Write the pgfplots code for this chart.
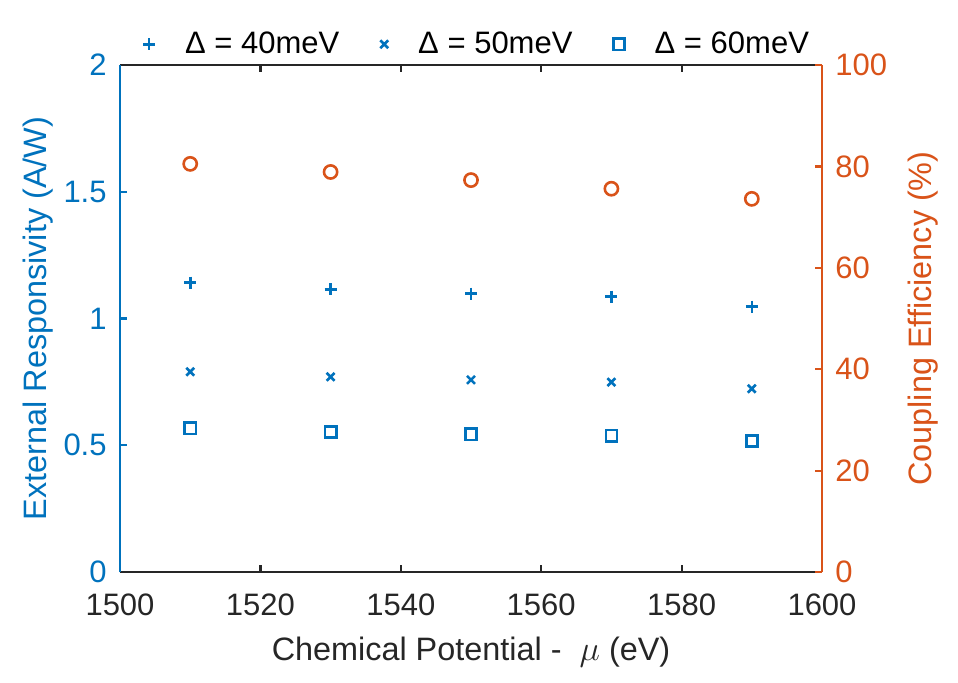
\documentclass[border=0pt]{standalone}
\usepackage{fontspec}
\setmainfont{Liberation Sans}
\usepackage{pgfplots}
\pgfplotsset{compat=1.18}
\definecolor{mblue}{rgb}{0,0.447,0.741}
\definecolor{morange}{rgb}{0.85,0.325,0.098}
\definecolor{mgray}{rgb}{0.15,0.15,0.15}
\tikzset{labelfont/.style={font=\fontsize{16.2}{19}\selectfont}}

\begin{document}
\begin{tikzpicture}
\path[use as bounding box] (0,0) rectangle (479pt,341pt);
\pgfplotsset{
  common/.style={
    at={(60pt,55pt)}, anchor=south west,
    scale only axis, width=351pt, height=253.5pt,
    xmin=1500, xmax=1600,
    font=\fontsize{15.5}{18}\selectfont,
    tick align=inside,
    major tick length=3.5pt,
    every axis plot/.append style={line width=1.3pt},
    /pgf/number format/assume math mode=true,
  },
}
% Left axis: external responsivity
\begin{axis}[
  common,
  ymin=0, ymax=2,
  xtick={1500,1520,...,1600},
  ytick={0,0.5,1,1.5,2},
  axis x line*=box,
  axis y line*=left,
  x axis line style={mgray, line width=1.3pt},
  y axis line style={mblue, line width=1.3pt},
  xtick style={mgray, line width=1.1pt},
  ytick style={mblue, line width=1.1pt},
  xticklabel style={text=mgray, anchor=north, inner sep=0pt, yshift=-10.5pt,
    /pgf/number format/set thousands separator={}},
  yticklabel style={text=mblue, anchor=east, inner sep=0pt, xshift=-6.5pt},
  xlabel={Chemical Potential -\ \ $\mu$ (eV)},
  xlabel style={labelfont, text=mgray, at={(axis description cs:0.5,0)}, anchor=base, yshift=-44pt},
  ylabel={External Responsivity (A/W)},
  ylabel style={labelfont, text=mblue, at={(axis description cs:-0.1168,0.5)}, anchor=center, rotate=0},
  /pgf/number format/fixed,
  legend style={at={(axis description cs:0.51,1)}, anchor=south, draw=none, fill=none,
    legend columns=3, font=\fontsize{15.5}{18}\selectfont,
    /tikz/every odd column/.append style={column sep=13pt},
    /tikz/every even column/.append style={column sep=18.5pt}},
]
\addplot[only marks, mark=+, mark size=3pt, color=mblue]
  coordinates {(1510,1.142) (1530,1.115) (1550,1.098) (1570,1.086) (1590,1.047)};
\addlegendentry{Δ = 40meV}
\addplot[only marks, mark=x, mark size=2.8pt, color=mblue]
  coordinates {(1510,0.790) (1530,0.770) (1550,0.758) (1570,0.749) (1590,0.723)};
\addlegendentry{Δ = 50meV}
\addplot[only marks, mark=square, mark size=2.8pt, color=mblue]
  coordinates {(1510,0.567) (1530,0.552) (1550,0.543) (1570,0.538) (1590,0.517)};
\addlegendentry{Δ = 60meV}
\end{axis}
% Right axis: coupling efficiency
\begin{axis}[
  common,
  ymin=0, ymax=100,
  ytick={0,20,...,100},
  axis x line=none,
  axis y line*=right,
  y axis line style={morange, line width=1.3pt},
  ytick style={morange, line width=1.1pt},
  yticklabel style={text=morange, anchor=west, inner sep=0pt, xshift=6.5pt},
  ylabel={Coupling Efficiency (\%)},
  ylabel style={labelfont, text=morange, at={(axis description cs:1.1439,0.5)}, anchor=center, rotate=0},
]
\addplot[only marks, mark=o, mark size=3.3pt, color=morange]
  coordinates {(1510,80.5) (1530,78.9) (1550,77.3) (1570,75.6) (1590,73.6)};
\end{axis}
\end{tikzpicture}
\end{document}
